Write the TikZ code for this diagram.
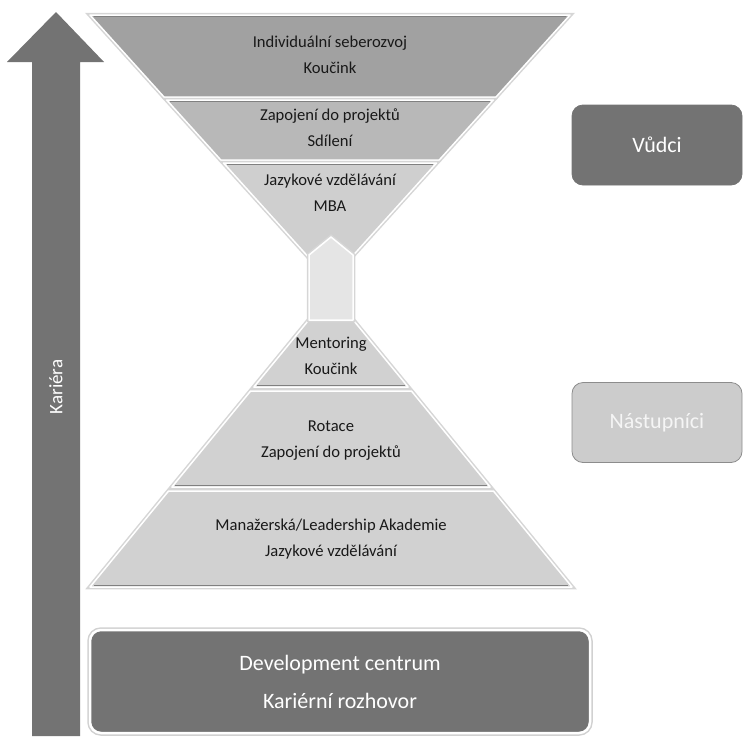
\documentclass[tikz,border=0pt]{standalone}
\usepackage{fontspec}
\setmainfont{Carlito}
\begin{document}
\begin{tikzpicture}[x=1pt,y=-1pt]
  \tikzstyle{band}=[draw=white,line width=1.5pt,line join=round,preaction={draw=black!16,line width=4.5pt}]
  \tikzstyle{rim}=[draw=black!50,line width=1.3pt]
  \tikzstyle{bandtext}=[align=center,font=\fontsize{16.6}{26}\selectfont,text=black!90]
  \tikzstyle{box}=[rounded corners=11pt,draw=black!45,line width=0.8pt,minimum width=170,minimum height=80,text=white,font=\fontsize{22}{26}\selectfont]
  \useasboundingbox (0,0) rectangle (743,736);
  % career arrow
  \fill[black!55] (32,736) -- (32,62) -- (7,62) -- (56,12) -- (104,62) -- (80,62) -- (80,736) -- cycle;
  \node[rotate=90,text=white,font=\fontsize{19}{22}\selectfont] (kar) at (56,387) {Kariéra};
  % upper funnel
  \path[band,fill=black!37] (90,15) -- (570,15) -- (496,97) -- (164,97) -- cycle;
  \path[band,fill=black!28] (166.7,100) -- (493.3,100) -- (439.2,160) -- (220.8,160) -- cycle;
  \path[band,fill=black!19] (223.5,163) -- (436.5,163) -- (330,281) -- cycle;
  \draw[rim] (94,16.5) -- (566,16.5);
  \draw[rim] (170,101.5) -- (490,101.5);
  \draw[rim] (227,164.5) -- (433,164.5);
  % lower pyramid
  \path[band,fill=black!18] (308,321) -- (354,321) -- (408.1,387) -- (253.9,387) -- cycle;
  \path[band,fill=black!18] (250.6,391) -- (411.4,391) -- (490.1,487) -- (171.9,487) -- cycle;
  \path[band,fill=black!18] (168.6,491) -- (493.4,491) -- (572,587) -- (90,587) -- cycle;
  \draw[rim] (257,385.5) -- (405,385.5);
  \draw[rim] (175,485.5) -- (487,485.5);
  \draw[rim] (94,585.5) -- (568,585.5);
  % link between the two
  \path[band,fill=black!10] (309,320) -- (309,255) -- (331,237) -- (353,255) -- (353,320) -- cycle;
  \node[bandtext] (lead1) at (330,55) {Individuální seberozvoj\\Koučink};
  \node[bandtext] (lead2) at (330,128) {Zapojení do projektů\\Sdílení};
  \node[bandtext] (lead3) at (330,193) {Jazykové vzdělávání\\MBA};
  \node[bandtext] (succ1) at (331,356) {Mentoring\\Koučink};
  \node[bandtext] (succ2) at (331,441) {Rotace\\Zapojení do projektů};
  \node[bandtext] (succ3) at (331,539) {Manažerská/Leadership Akademie\\Jazykové vzdělávání};
  % groups
  \node[box,fill=black!55,draw=black!55] (ldr) at (657,145) {Vůdci};
  \node[box,fill=black!20,text=black!4] (scc) at (657,422.5) {Nástupníci};
  % base
  \node[box,fill=black!55,draw=white,line width=2.5pt,minimum width=500,minimum height=103,align=center,
        font=\fontsize{22}{38}\selectfont,preaction={draw=black!18,line width=5.5pt}] (dc) at (340,681.5)
        {Development centrum\\Kariérní rozhovor};
\end{tikzpicture}
\end{document}
